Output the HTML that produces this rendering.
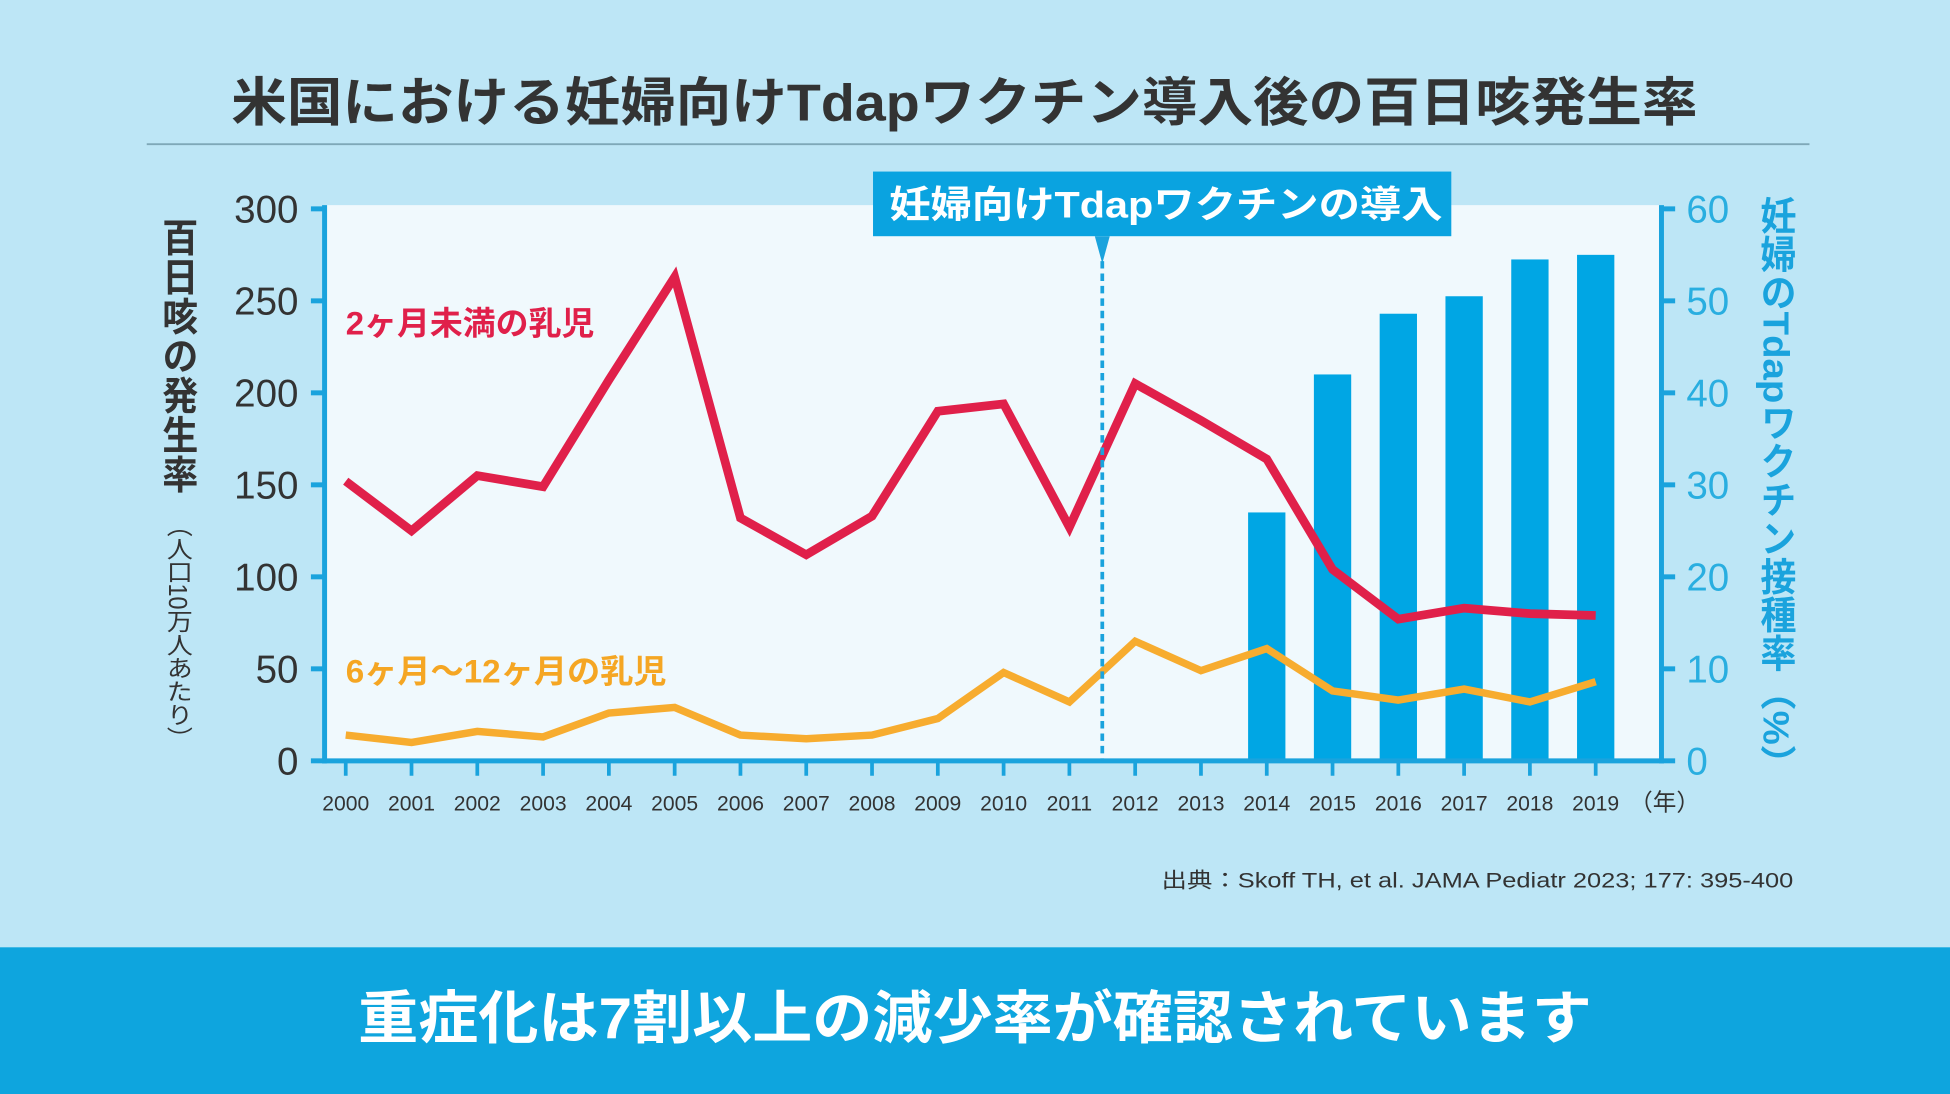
<!DOCTYPE html>
<html><head><meta charset="utf-8"><style>
html,body{margin:0;padding:0;background:#bde6f6;}
svg{display:block;}
text{font-family:"Liberation Sans","Noto Sans CJK JP",sans-serif;}
</style></head><body>
<svg id="chart" width="1950" height="1094" viewBox="0 0 1568 880" preserveAspectRatio="none" xmlns="http://www.w3.org/2000/svg">
<rect x="0" y="0" width="1568" height="880" fill="#bde6f6"/>
<text x="186" y="97" font-size="42" font-weight="bold" fill="#333" textLength="1179" lengthAdjust="spacingAndGlyphs">米国における妊婦向けTdapワクチン導入後の百日咳発生率</text>
<line x1="118" y1="116" x2="1455" y2="116" stroke="#7fa8b8" stroke-width="1.5"/>
<rect x="262" y="165" width="1073" height="447" fill="#f0f9fd"/>
<g id="bars"></g>
<g id="axes"></g>
<g id="lines"></g>
<line id="intro-line" stroke="#1aa3dd" stroke-width="3" stroke-dasharray="6,4"/>
<polygon id="intro-tri" fill="#1aa3dd"/>
<rect x="702" y="138" width="465" height="52" fill="#0aa3e0"/>
<text x="715" y="175" font-size="30" font-weight="bold" fill="#fff" textLength="445" lengthAdjust="spacingAndGlyphs">妊婦向けTdapワクチンの導入</text>
<text x="278" y="269" font-size="26" font-weight="bold" fill="#e0204a" textLength="200" lengthAdjust="spacingAndGlyphs">2ヶ月未満の乳児</text>
<text x="278" y="549" font-size="26" font-weight="bold" fill="#f5a623" textLength="258" lengthAdjust="spacingAndGlyphs">6ヶ月〜12ヶ月の乳児</text>
<text x="143" y="175" font-size="29" font-weight="bold" fill="#333" textLength="222" lengthAdjust="spacingAndGlyphs" style="writing-mode:vertical-rl">百日咳の発生率</text>
<text x="143" y="413" font-size="21" fill="#333" textLength="190" lengthAdjust="spacingAndGlyphs" style="writing-mode:vertical-rl">（人口10万人あたり）</text>
<text x="1428" y="158" font-size="29" font-weight="bold" fill="#1aa3dd" textLength="472" lengthAdjust="spacingAndGlyphs" style="writing-mode:vertical-rl">妊婦のTdapワクチン接種率（%）</text>
<text x="934" y="714" font-size="17" fill="#333" textLength="508" lengthAdjust="spacingAndGlyphs">出典：Skoff TH, et al. JAMA Pediatr 2023; 177: 395-400</text>
<rect x="0" y="762" width="1568" height="118" fill="#0ea5de"/>
<text x="288" y="835" font-size="46" font-weight="bold" fill="#fff" textLength="992" lengthAdjust="spacingAndGlyphs">重症化は7割以上の減少率が確認されています</text>
</svg>
<script>
const years = ["2000","2001","2002","2003","2004","2005","2006","2007","2008","2009","2010","2011","2012","2013","2014","2015","2016","2017","2018","2019"];
const infantsUnder2m = [152,125,155,149,207,263,132,112,133,190,194,127,205,185,164,104,77,83,80,79];
const infants6to12m = [14,10,16,13,26,29,14,12,14,23,48,32,65,49,61,38,33,39,32,43];
const barYears = ["2014","2015","2016","2017","2018","2019"];
const vaccineRate = [27,42,48.6,50.5,54.5,55];
const leftTicks = [0,50,100,150,200,250,300];
const rightTicks = [0,10,20,30,40,50,60];
const introYear = 2011.5;

const NS="http://www.w3.org/2000/svg";
const X0=278, DX=52.9, Y0=612, YT=168;
const xPos=i=>X0+i*DX;
const yL=v=>Y0-(v/300)*(Y0-YT);
const yR=v=>Y0-(v/60)*(Y0-YT);
function mk(tag,attrs,parent){const e=document.createElementNS(NS,tag);for(const k in attrs)e.setAttribute(k,attrs[k]);parent.appendChild(e);return e;}
const bars=document.getElementById('bars'),axes=document.getElementById('axes'),lines=document.getElementById('lines');

barYears.forEach((y,i)=>{const idx=years.indexOf(y);const r=mk('rect',{x:xPos(idx)-15,y:yR(vaccineRate[i]),width:30,height:Y0-yR(vaccineRate[i]),fill:'#00a6e4'},bars);

});

const la=mk('line',{x1:261,y1:165,x2:261,y2:Y0+2,stroke:'#1aa3dd','stroke-width':4},axes);


const ra=mk('line',{x1:1336,y1:165,x2:1336,y2:Y0+2,stroke:'#1aa3dd','stroke-width':4},axes);


const xa=mk('line',{x1:259,y1:Y0,x2:1338,y2:Y0,stroke:'#1aa3dd','stroke-width':4},axes);



leftTicks.forEach(v=>{const y=yL(v);mk('line',{x1:250,y1:y,x2:262,y2:y,stroke:'#1aa3dd','stroke-width':4},axes);
const t=mk('text',{x:240,y:y+11,'text-anchor':'end','font-size':31,fill:'#333'},axes);t.textContent=v;

});
rightTicks.forEach(v=>{const y=yR(v);mk('line',{x1:1335,y1:y,x2:1347,y2:y,stroke:'#1aa3dd','stroke-width':4},axes);
const t=mk('text',{x:1356,y:y+11,'font-size':31,fill:'#29aee0'},axes);t.textContent=v;

});
years.forEach((yr,i)=>{const x=xPos(i);mk('line',{x1:x,y1:Y0,x2:x,y2:Y0+12,stroke:'#1aa3dd','stroke-width':3},axes);
const t=mk('text',{x:x,y:652,'text-anchor':'middle','font-size':17,fill:'#333'},axes);t.textContent=yr;

});
const unit=mk('text',{x:1310,y:652,'font-size':19,fill:'#333'},axes);unit.textContent='（年）';



function line(vals,color,w,name){const p=mk('polyline',{points:vals.map((v,i)=>xPos(i)+','+yL(v)).join(' '),fill:'none',stroke:color,'stroke-width':w,'stroke-linejoin':'miter','stroke-linecap':'butt'},lines);

}
line(infants6to12m,'#f7ac2f',6,'line-6-12-months');
line(infantsUnder2m,'#e0204a',7,'line-under-2-months');

const ix=xPos(introYear-2000);
const il=document.getElementById('intro-line');
il.setAttribute('x1',ix);il.setAttribute('x2',ix);il.setAttribute('y1',200);il.setAttribute('y2',Y0);
document.getElementById('intro-tri').setAttribute('points',(ix-6)+',190 '+(ix+6)+',190 '+ix+',212');
</script>
</body></html>
